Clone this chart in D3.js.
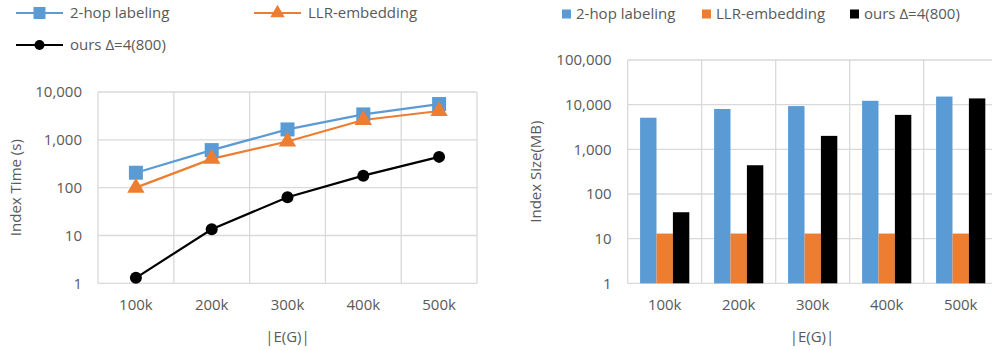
<!DOCTYPE html>
<html>
<head>
<meta charset="utf-8">
<script src="https://cdn.jsdelivr.net/npm/d3@7"></script>
<style>
  html, body { margin: 0; padding: 0; background: #fff; }
  svg { display: block; }
  text { font-family: "Open Sans", "Noto Sans", sans-serif; fill: #595959; }
</style>
</head>
<body>
<svg id="chart" width="992" height="350"></svg>
<script>
// Edge counts on the x axis
const categories = ["100k", "200k", "300k", "400k", "500k"];
const seriesNames = ["2-hop labeling", "LLR-embedding", "ours \u0394=4(800)"];
const seriesColors = ["#5B9BD5", "#ED7D31", "#000000"];

// Index construction time (s)
const timeTwoHop = [205, 610, 1650, 3400, 5600];
const timeLLR = [100, 400, 920, 2600, 4000];
const timeOurs = [1.3, 13.5, 63, 178, 440];

// Index size (MB)
const sizeTwoHop = [5100, 8000, 9300, 12200, 15200];
const sizeLLR = [13, 13, 13, 13, 13];
const sizeOurs = [39, 440, 2000, 5900, 13800];

const timeTicks = [1, 10, 100, 1000, 10000];
const sizeTicks = [1, 10, 100, 1000, 10000, 100000];

const fmt = d3.format(",");
const svg = d3.select("#chart");
const gridColor = "#d9d9d9";
const fontSize = "15px";

function drawFrame(g, x, y, ticks, w, h) {
  // horizontal gridlines at each decade
  g.append("g").selectAll("line").data(ticks).join("line")
    .attr("x1", 0).attr("x2", w)
    .attr("y1", d => y(d)).attr("y2", d => y(d))
    .attr("stroke", gridColor).attr("stroke-width", 1.3);
  // vertical gridlines at category boundaries
  const bounds = categories.map(c => x(c)).concat([x(categories[categories.length - 1]) + x.step()]);
  g.append("g").selectAll("line").data(bounds).join("line")
    .attr("x1", d => d).attr("x2", d => d)
    .attr("y1", 0).attr("y2", h)
    .attr("stroke", gridColor).attr("stroke-width", 1.3);

  const yAxis = d3.axisLeft(y).tickValues(ticks).tickFormat(fmt).tickSize(0).tickPadding(16);
  const ya = g.append("g").call(yAxis);
  ya.select(".domain").remove();
  ya.selectAll("text").style("font-size", fontSize).attr("fill", "#595959");

  const xAxis = d3.axisBottom(x).tickSize(0).tickPadding(16);
  const xa = g.append("g").attr("transform", `translate(0,${h})`).call(xAxis);
  xa.select(".domain").remove();
  xa.selectAll("text").style("font-size", fontSize).attr("fill", "#595959");
}

// ---------- Left: index time line chart ----------
{
  const left = 98, top = 92, w = 379, h = 191.3;
  const g = svg.append("g").attr("transform", `translate(${left},${top})`);
  const x = d3.scaleBand().domain(categories).range([0, w]).paddingInner(0).paddingOuter(0);
  const y = d3.scaleLog().domain([1, 10000]).range([h, 0]);
  drawFrame(g, x, y, timeTicks, w, h);

  const cx = c => x(c) + x.bandwidth() / 2;
  const series = [timeTwoHop, timeLLR, timeOurs];
  const line = d3.line().x((d, i) => cx(categories[i])).y(d => y(d));

  series.forEach((vals, s) => {
    g.append("path").datum(vals).attr("d", line)
      .attr("fill", "none").attr("stroke", seriesColors[s]).attr("stroke-width", 2.2);
  });
  series.forEach((vals, s) => {
    const mg = g.append("g");
    vals.forEach((v, i) => {
      const px = cx(categories[i]), py = y(v);
      if (s === 0) {
        mg.append("rect").attr("x", px - 7).attr("y", py - 7).attr("width", 14).attr("height", 14)
          .attr("fill", seriesColors[0]);
      } else if (s === 1) {
        mg.append("path").attr("d", d3.symbol(d3.symbolTriangle, 130)())
          .attr("transform", `translate(${px},${py})`).attr("fill", seriesColors[1]);
      } else {
        mg.append("circle").attr("cx", px).attr("cy", py).attr("r", 6).attr("fill", seriesColors[2]);
      }
    });
  });

  svg.append("text").attr("transform", `translate(21,${top + h / 2}) rotate(-90)`)
    .attr("text-anchor", "middle").style("font-size", fontSize).text("Index Time (s)");
  svg.append("text").attr("x", left + w / 2).attr("y", 342)
    .attr("text-anchor", "middle").style("font-size", fontSize).text("|E(G)|");

  // legend
  const legendPos = [[16, 13], [254, 13], [16, 45]];
  legendPos.forEach(([lx, ly], s) => {
    const lg = svg.append("g").attr("transform", `translate(${lx},${ly})`);
    lg.append("line").attr("x1", 0).attr("x2", 47).attr("y1", 0).attr("y2", 0)
      .attr("stroke", seriesColors[s]).attr("stroke-width", 2.2);
    if (s === 0) lg.append("rect").attr("x", 17.5).attr("y", -6).attr("width", 12).attr("height", 12).attr("fill", seriesColors[0]);
    else if (s === 1) lg.append("path").attr("d", d3.symbol(d3.symbolTriangle, 90)()).attr("transform", "translate(23.5,0)").attr("fill", seriesColors[1]);
    else lg.append("circle").attr("cx", 23.5).attr("cy", 0).attr("r", 5).attr("fill", seriesColors[2]);
    lg.append("text").attr("x", 54).attr("y", 0).attr("dy", "0.35em").style("font-size", fontSize).text(seriesNames[s]);
  });
}

// ---------- Right: index size bar chart ----------
{
  const left = 627.7, top = 60, w = 370, h = 223.3;
  const g = svg.append("g").attr("transform", `translate(${left},${top})`);
  const x = d3.scaleBand().domain(categories).range([0, w]).paddingInner(0).paddingOuter(0);
  const y = d3.scaleLog().domain([1, 100000]).range([h, 0]);
  drawFrame(g, x, y, sizeTicks, w, h);

  const inner = d3.scaleBand().domain(d3.range(3)).range([0, x.bandwidth()]).paddingOuter(0.755).paddingInner(0);
  const series = [sizeTwoHop, sizeLLR, sizeOurs];
  series.forEach((vals, s) => {
    g.append("g").selectAll("rect").data(vals).join("rect")
      .attr("x", (d, i) => x(categories[i]) + inner(s))
      .attr("width", inner.bandwidth())
      .attr("y", d => y(d))
      .attr("height", d => h - y(d))
      .attr("fill", seriesColors[s]);
  });

  svg.append("text").attr("transform", `translate(541,${top + h / 2}) rotate(-90)`)
    .attr("text-anchor", "middle").style("font-size", fontSize).text("Index Size(MB)");
  svg.append("text").attr("x", 812).attr("y", 342)
    .attr("text-anchor", "middle").style("font-size", fontSize).text("|E(G)|");

  const legendX = [562, 702, 850];
  legendX.forEach((lx, s) => {
    const lg = svg.append("g").attr("transform", `translate(${lx},14)`);
    lg.append("rect").attr("x", 0).attr("y", -4.5).attr("width", 9).attr("height", 9).attr("fill", seriesColors[s]);
    lg.append("text").attr("x", 14).attr("y", 0).attr("dy", "0.35em").style("font-size", fontSize).text(seriesNames[s]);
  });
}
</script>
</body>
</html>
